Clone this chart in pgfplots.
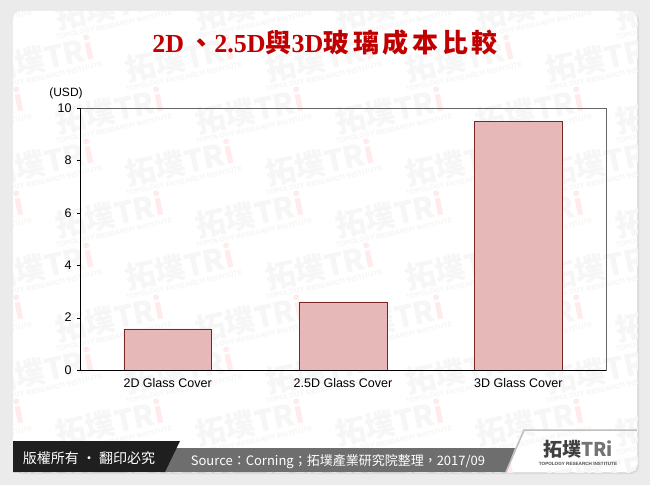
\documentclass[border=0pt]{standalone}
\usepackage{pgfplots}
\pgfplotsset{compat=1.18}
\usepackage{fontspec}
\setmainfont{Liberation Sans}
\newfontfamily\cjk{Noto Sans CJK TC}
\newfontfamily\cjkt{Noto Sans CJK TC}[LetterSpace=14]
\newfontfamily\titlelat{Liberation Serif}
\definecolor{barfill}{HTML}{E6B8B7}
\definecolor{baredge}{HTML}{7B2525}
\definecolor{titlered}{HTML}{C00000}
\definecolor{bgout}{HTML}{EBEBEB}
\definecolor{band}{HTML}{6E6E6E}

\begin{document}
\begin{tikzpicture}[x=1pt,y=1pt]
% page background and panel
\fill[bgout] (0,0) rectangle (650,485);
\fill[black!14, rounded corners=8pt] (15,11) rectangle (639,472);
\fill[white, rounded corners=8pt] (13,13) rectangle (637,474);
% watermark
\begin{scope}
  \clip[rounded corners=8pt] (13,13) rectangle (637,474);
  \foreach \r in {0,...,9}{
    \foreach \c in {-1,...,5}{
      \node[rotate=12, black!3.5, font=\cjk\bfseries\fontsize{30}{30}\selectfont]
        at ({\c*140+mod(\r,2)*70+40}, {\r*52+10}) {拓墣TR\textcolor{red!8}{i}};
      \node[rotate=12, black!4, font=\bfseries\fontsize{7}{7}\selectfont]
        at ({\c*140+mod(\r,2)*70+44}, {\r*52-8}) {TOPOLOGY RESEARCH INSTITUTE};
    }
  }
\end{scope}
% footer
\fill[band] (160,13) -- (170,37) -- (515,37) -- (506,13) -- cycle;
\fill[black!88] (13,13) -- (13,44) -- (180,44) -- (165,13) -- cycle;
\draw[black!25, line width=1.5pt] (506,13) -- (524,55) -- (637,55);
\node[white, font=\cjk\fontsize{14}{14}\selectfont] at (89,27) {版權所有 · 翻印必究};
\node[white, font=\cjk\fontsize{13}{13}\selectfont] at (338,23) {Source：Corning；拓墣產業研究院整理，2017/09};
\node[black!75, font=\cjk\bfseries\fontsize{19}{19}\selectfont] at (578,36) {拓墣\textcolor{black!55}{TR}\textcolor{black!55}{i}};
\node[black!70, font=\bfseries\fontsize{4.6}{5}\selectfont] at (578,21) {TOPOLOGY RESEARCH INSTITUTE};
% title
\node[titlered, font=\fontsize{26}{26}\selectfont\bfseries] at (325,442)
  {\titlelat 2D\,\cjkt 、\titlelat 2.5D\cjkt 與\titlelat 3D\cjkt 玻璃成本比較};
% unit label
\node[font=\fontsize{12}{12}\selectfont] at (66,392) {(USD)};
\begin{axis}[
  at={(80pt,115pt)}, anchor=south west,
  scale only axis, width=526pt, height=262pt,
  xmin=-0.5, xmax=2.5, ymin=0, ymax=10,
  xtick={0,1,2},
  xticklabels={2D Glass Cover, 2.5D Glass Cover, 3D Glass Cover},
  ytick={0,2,4,6,8,10},
  ytick pos=left,
  x tick style={draw=none},
  y tick style={black},
  major tick length=3pt, tick align=outside,
  axis line style={black!60},
  ticklabel style={font=\fontsize{12.5}{12.5}\selectfont},
  /pgf/number format/assume math mode=true,
  yticklabel style={xshift=-2pt},
  xticklabel style={yshift=-2pt},
]
\addplot[ybar, bar width=0.5, fill=barfill, draw=baredge] coordinates {(0,1.57) (1,2.6) (2,9.5)};
\draw[black] (rel axis cs:0,1) -- (rel axis cs:0,0) -- (rel axis cs:1,0);
\end{axis}
\end{tikzpicture}
\end{document}
